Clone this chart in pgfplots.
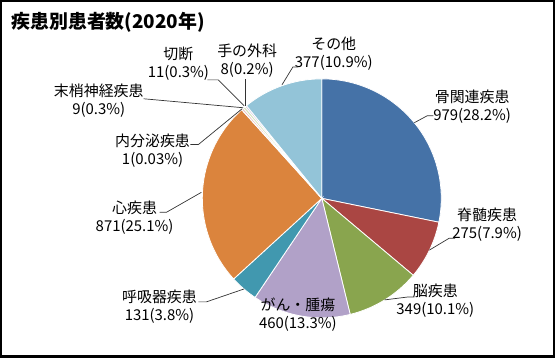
\documentclass[border=0pt]{standalone}
\usepackage{pgfplots}
\pgfplotsset{compat=1.18}
\usepackage{pgfplotstable}
\usepackage{fontspec}
\setmainfont{Noto Sans CJK JP}

\definecolor{cBone}{HTML}{4572A7}
\definecolor{cSpine}{HTML}{AA4643}
\definecolor{cBrain}{HTML}{89A54E}
\definecolor{cCancer}{HTML}{B1A1C8}
\definecolor{cResp}{HTML}{4198AF}
\definecolor{cHeart}{HTML}{DB843D}
\definecolor{cEndo}{HTML}{A7C0DE}
\definecolor{cNerve}{HTML}{E6B9B8}
\definecolor{cAmp}{HTML}{D7E4BD}
\definecolor{cHand}{HTML}{CCC1DA}
\definecolor{cOther}{HTML}{93C4D8}

% values in clockwise order from 12 o'clock
\pgfplotstableread{
name value col
bone 979 cBone
spine 275 cSpine
brain 349 cBrain
cancer 460 cCancer
resp 131 cResp
heart 871 cHeart
endo 1 cEndo
nerve 9 cNerve
amp 11 cAmp
hand 8 cHand
other 377 cOther
}\piedata

\newcommand\px[2]{(axis cs:{(#1-322)/120},{(198-#2)/120})}
\tikzset{
  lab/.style={font=\fontsize{15bp}{18bp}\selectfont, align=center, inner sep=0pt},
  leader/.style={black!80, line width=0.7bp},
}

\begin{document}
\begin{tikzpicture}
\begin{axis}[
  x=120bp, y=120bp, scale only axis,
  xmin=-2.683333, xmax=1.941667, ymin=-1.325, ymax=1.65,
  xtick=\empty, ytick=\empty,
  axis line style={black, line width=2.4bp},
  clip=false,
]
\pgfplotstablegetrowsof{\piedata}
\pgfmathtruncatemacro\nrows{\pgfplotsretval-1}
\def\total{0}
\pgfplotsforeachungrouped \i in {0,...,\nrows}{%
  \pgfplotstablegetelem{\i}{value}\of\piedata
  \pgfmathsetmacro\total{\total+\pgfplotsretval}%
}
\def\cum{0}
\pgfplotsforeachungrouped \i in {0,...,\nrows}{%
  \pgfplotstablegetelem{\i}{value}\of\piedata \let\sv\pgfplotsretval
  \pgfplotstablegetelem{\i}{col}\of\piedata \let\scol\pgfplotsretval
  \pgfmathsetmacro\a{90-360*(\cum/\total)}%
  \pgfmathsetmacro\cum{\cum+\sv}%
  \pgfmathsetmacro\b{90-360*(\cum/\total)}%
  \edef\temp{\noexpand\fill[\scol, draw=white, line width=0.8bp] (axis cs:0,0) -- (axis cs:{cos(\a)},{sin(\a)}) arc[start angle=\a, end angle=\b, radius=120bp] -- cycle;}%
  \temp
}

% title
\node[anchor=west, inner sep=0pt, font=\fontsize{19bp}{22bp}\selectfont\bfseries] at \px{10}{21} {疾患別患者数(2020年)};

% labels
\node[lab] at \px{334}{53} {その他\\377(10.9\%)};
\node[lab] at \px{473}{106} {骨関連疾患\\979(28.2\%)};
\node[lab] at \px{488}{224} {脊髄疾患\\275(7.9\%)};
\node[lab] at \px{436}{301} {脳疾患\\349(10.1\%)};
\node[lab] at \px{298}{315} {がん・腫瘍\\460(13.3\%)};
\node[lab] at \px{159}{307} {呼吸器疾患\\131(3.8\%)};
\node[lab] at \px{134}{217} {心疾患\\871(25.1\%)};
\node[lab] at \px{152}{150} {内分泌疾患\\1(0.03\%)};
\node[lab] at \px{98}{100} {末梢神経疾患\\9(0.3\%)};
\node[lab] at \px{178}{63} {切断\\11(0.3\%)};
\node[lab] at \px{247}{60} {手の外科\\8(0.2\%)};

% leader lines
\draw[leader] \px{282}{84} -- \px{293}{66} -- \px{298}{66};
\draw[leader] \px{415}{122} -- \px{428}{115} -- \px{434}{115};
\draw[leader] \px{430}{250} -- \px{450}{238} -- \px{456}{238};
\draw[leader] \px{385}{300} -- \px{409}{297} -- \px{415}{297};
\draw[leader] \px{244}{289} -- \px{206}{302} -- \px{198}{302};
\draw[leader] \px{201}{192} -- \px{166}{212} -- \px{159}{212};
\draw[leader] \px{242}{108} -- \px{198}{144} -- \px{190}{144};
\draw[leader] \px{243}{107} -- \px{143}{98};
\draw[leader] \px{244}{105} -- \px{218}{79} -- \px{207}{79};
\draw[leader] \px{245}{105} -- \px{245}{78};
\end{axis}
\end{tikzpicture}
\end{document}
